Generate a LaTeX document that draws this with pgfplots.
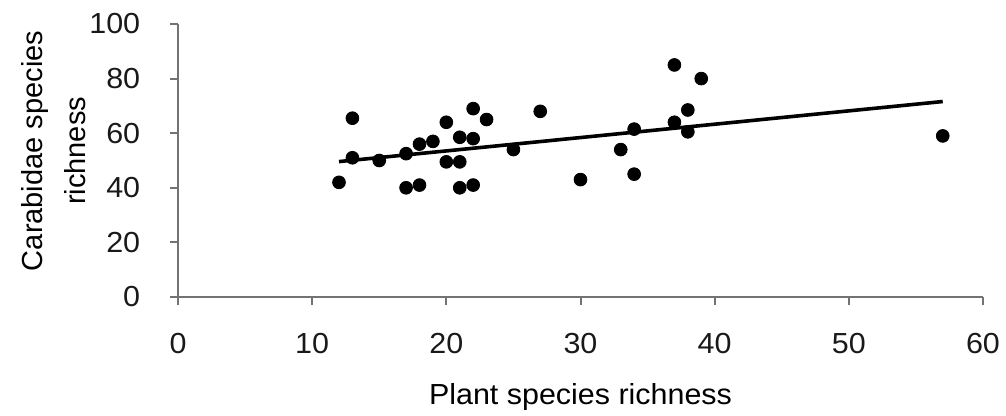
\documentclass[border=0pt]{standalone}
\usepackage{fontspec}
\setmainfont{Liberation Sans}
\usepackage{pgfplots}
\pgfplotsset{compat=1.18}
\begin{document}
\begin{tikzpicture}
\useasboundingbox (0,0) rectangle (503pt,208pt);
\begin{axis}[
  at={(89pt,59.5pt)}, anchor=south west,
  scale only axis,
  width=402.5pt, height=136.5pt,
  xmin=0, xmax=60, ymin=0, ymax=100,
  axis lines*=left,
  axis line style={black!55, line width=1pt},
  xtick={0,10,...,60}, ytick={0,20,...,100},
  tick align=outside,
  major tick length=4pt,
  tick style={black!55, line width=1pt},
  /pgf/number format/assume math mode=true,
  ticklabel style={font=\fontsize{14.5}{17}\selectfont, text=black!90, xscale=1.05},
  yticklabel style={anchor=east, inner sep=0pt, xshift=-14pt},
  xticklabel style={anchor=north, inner sep=0pt, yshift=-14pt},
  xlabel={Plant species richness},
  xlabel style={font=\fontsize{14.5}{17}\selectfont, xscale=1.05, at={(axis description cs:0.5,0)}, anchor=base, yshift=-54pt, inner sep=0pt},
  ylabel={Carabidae species\\richness},
  ylabel style={font=\fontsize{14.5}{21.5}\selectfont, align=center, rotate=0, at={(axis description cs:-0.154,0.535)}, anchor=center},
  clip=false,
]
\addplot[only marks, mark=*, mark size=3.2pt, black] coordinates {
(12,42) (13,65.5) (13,51) (15,50) (17,52.5) (17,40) (18,41) (18,56) (19,57)
(20,64) (20,49.5) (21,49.5) (21,58.5) (22,69) (22,58) (21,40) (22,41) (23,65)
(25,54) (27,68) (30,43) (33,54) (34,61.5) (34,45) (37,85) (37,64) (39,80)
(38,68.5) (38,60.5) (57,59)
};
\addplot[black, line width=1.8pt, no marks] coordinates {(12,49.6) (57,71.6)};
\end{axis}
\end{tikzpicture}
\end{document}
